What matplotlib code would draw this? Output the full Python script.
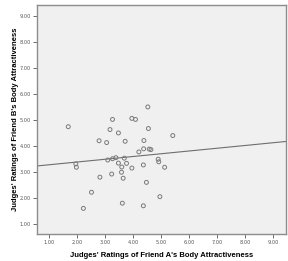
import matplotlib
matplotlib.use("Agg")
import matplotlib.pyplot as plt
import numpy as np

# ratings (Friend A on x, Friend B on y)
friend_a = [1.69, 3.27, 3.18, 3.48, 2.79, 3.06, 4.53, 3.96, 4.09, 4.55,
            5.42, 3.72, 4.39, 4.21, 4.38, 4.58, 4.64, 3.69, 4.90, 4.92,
            3.10, 3.27, 3.39, 1.96, 1.98, 3.48, 3.77, 3.60, 3.96, 4.37,
            5.13, 3.24, 3.59, 2.82, 3.65, 4.48, 2.52, 2.23, 3.62, 4.37, 4.96]
friend_b = [4.74, 5.02, 4.63, 4.50, 4.20, 4.13, 5.50, 5.06, 5.02, 4.67,
            4.40, 4.18, 4.21, 3.77, 3.89, 3.88, 3.86, 3.53, 3.49, 3.39,
            3.46, 3.51, 3.55, 3.31, 3.18, 3.34, 3.33, 3.19, 3.15, 3.27,
            3.18, 2.92, 2.99, 2.80, 2.76, 2.60, 2.22, 1.60, 1.80, 1.70, 2.05]

# fit line as drawn in the original output
fit_intercept = 3.17
fit_slope = 0.106

ticks = [1, 2, 3, 4, 5, 6, 7, 8, 9]
tick_labels = ["%.2f" % t for t in ticks]

fig = plt.figure(figsize=(2.88, 2.61), dpi=100)
ax = fig.add_axes([0.128, 0.1034, 0.865, 0.8776])
ax.set_facecolor("#f0f0f0")

ax.scatter(friend_a, friend_b, s=8, facecolors="none", edgecolors="#7a7a7a", linewidths=0.7, zorder=3)

xlim = (0.57, 9.46)
ylim = (0.615, 9.42)
xs = np.array(xlim)
ax.plot(xs, fit_intercept + fit_slope * xs, color="#6e6e6e", lw=0.8, zorder=2)

ax.set_xlim(xlim)
ax.set_ylim(ylim)
ax.set_xticks(ticks)
ax.set_xticklabels(tick_labels)
ax.set_yticks(ticks)
ax.set_yticklabels(tick_labels)
ax.tick_params(labelsize=3.6, length=3, width=0.6, colors="#555555", pad=1.5)

for s in ax.spines.values():
    s.set_color("#8c8c8c")
    s.set_linewidth(1.0)

ax.set_xlabel("Judges' Ratings of Friend A's Body Attractiveness", fontsize=5.5, fontweight="bold",
              family="Liberation Sans", labelpad=5)
ax.set_ylabel("Judges' Ratings of Friend B's Body Attractiveness", fontsize=5.5, fontweight="bold",
              family="Liberation Sans", labelpad=0)

fig.savefig("out.png", dpi=100)
